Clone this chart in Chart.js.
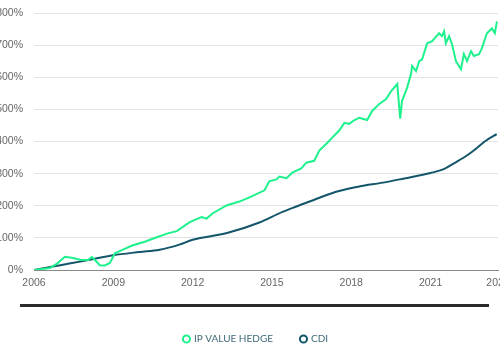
<!DOCTYPE html>
<html>
<head>
<meta charset="utf-8">
<script src="https://cdn.jsdelivr.net/npm/chart.js@4/dist/chart.umd.min.js"></script>
<style>
  html, body { margin: 0; padding: 0; background: #fff; overflow: hidden; }
  #wrap { position: relative; width: 500px; height: 350px; overflow: hidden; }
  #chartBox { position: absolute; left: -20px; top: 0; width: 550px; height: 354px; }
  #rule { position: absolute; left: 20px; top: 304px; width: 469px; height: 3px; background: #2b2b2b; }
</style>
</head>
<body>
<div id="wrap">
  <div id="chartBox"><canvas id="perfChart"></canvas></div>
  <div id="rule"></div>
</div>
<script>
// 累计收益 (%)，横轴为年份（小数）
const hedgeYears = [
  2006.0, 2006.3, 2006.6, 2006.87, 2007.17, 2007.43, 2007.74, 2008.04, 2008.19, 2008.34,
  2008.49, 2008.68, 2008.87, 2009.06, 2009.43, 2009.74, 2010.19, 2010.64, 2011.06, 2011.4,
  2011.89, 2012.34, 2012.53, 2012.75, 2013.28, 2013.77, 2014.15, 2014.72, 2014.9, 2015.17,
  2015.28, 2015.55, 2015.77, 2016.11, 2016.3, 2016.6, 2016.79, 2017.06, 2017.28, 2017.55,
  2017.74, 2017.92, 2018.11, 2018.3, 2018.6, 2018.79, 2019.06, 2019.32, 2019.51, 2019.74,
  2019.85, 2019.92, 2020.11, 2020.26, 2020.3, 2020.45, 2020.57, 2020.68, 2020.87, 2021.06,
  2021.32, 2021.43, 2021.51, 2021.58, 2021.7, 2021.81, 2021.96, 2022.15, 2022.26, 2022.38,
  2022.53, 2022.64, 2022.83, 2022.94, 2023.13, 2023.32, 2023.43, 2023.51
];
const hedgeValues = [
  0, 3, 6, 20, 41, 38, 32, 31, 40, 28,
  15, 14, 22, 52, 66, 77, 88, 102, 114, 121,
  149, 165, 160, 176, 201, 213, 226, 248, 276, 282,
  291, 286, 303, 316, 334, 340, 372, 393, 412, 435,
  458, 455, 466, 474, 467, 495, 517, 532, 557, 579,
  471, 526, 567, 610, 635, 619, 650, 656, 706, 712,
  737, 728, 743, 706, 728, 703, 650, 625, 672, 650,
  681, 666, 672, 690, 737, 752, 737, 774
];

const cdiYears = [
  2006.0, 2007.0, 2008.0, 2009.0, 2010.0, 2010.75, 2011.5, 2012.0, 2013.3, 2014.5,
  2015.4, 2016.0, 2016.8, 2017.5, 2018.3, 2019.2, 2020.0, 2021.0, 2021.5, 2021.9,
  2022.4, 2022.75, 2023.1, 2023.5
];
const cdiValues = [
  0, 15, 30, 46, 56, 63, 79, 94, 115, 147,
  181, 200, 225, 245, 260, 272, 285, 302, 314, 333,
  358, 380, 403, 423
];

// 刻度年份；最后一个标签落在数据末端
const yearTicks = [2006, 2009, 2012, 2015, 2018, 2021];
const lastYearLabel = '2024';
const xEnd = 2023.55;

const toPoints = (xs, ys) => xs.map((x, i) => ({ x, y: ys[i] }));

const tickFont = { family: '"Liberation Sans", Arial, sans-serif', size: 10.5 };

// 图例整体右移一点
const legendShift = {
  id: 'legendShift',
  afterLayout(chart) {
    const lg = chart.legend;
    if (!lg) return;
    lg.left += 8;
    lg.right += 8;
  }
};

new Chart(document.getElementById('perfChart'), {
  type: 'line',
  data: {
    datasets: [{
      label: 'IP VALUE HEDGE',
      data: toPoints(hedgeYears, hedgeValues),
      borderColor: '#1df28c',
      backgroundColor: '#ffffff',
      borderWidth: 2,
      pointRadius: 0,
      tension: 0,
    }, {
      label: 'CDI',
      data: toPoints(cdiYears, cdiValues),
      borderColor: '#13566a',
      backgroundColor: '#ffffff',
      borderWidth: 2,
      pointRadius: 0,
      cubicInterpolationMode: 'monotone',
    }]
  },
  plugins: [legendShift],
  options: {
    responsive: true,
    maintainAspectRatio: false,
    animation: false,
    layout: {
      padding: { top: 0, right: 32, left: 18, bottom: 0 }
    },
    plugins: {
      tooltip: { enabled: false },
      legend: {
        position: 'bottom',
        labels: {
          usePointStyle: true,
          pointStyle: 'circle',
          boxWidth: 5,
          boxHeight: 5,
          padding: 28,
          color: '#3f6a78',
          font: { family: 'Lato, sans-serif', size: 10 }
        }
      }
    },
    scales: {
      x: {
        type: 'linear',
        min: 2006,
        max: xEnd,
        afterBuildTicks: axis => {
          axis.ticks = yearTicks.map(v => ({ value: v })).concat([{ value: xEnd }]);
        },
        afterFit: axis => { axis.height = 36; },
        ticks: {
          color: '#666',
          font: tickFont,
          padding: 7,
          maxRotation: 0,
          autoSkip: false,
          callback: v => (v === xEnd ? lastYearLabel : String(v))
        },
        grid: { display: false, drawTicks: false },
        border: { display: true, color: '#8a8a8a', width: 1 }
      },
      y: {
        min: 0,
        max: 800,
        afterFit: axis => {
          axis.width = 36;
          axis.paddingTop = 13;
        },
        ticks: {
          stepSize: 100,
          color: '#666',
          font: tickFont,
          padding: 11,
          callback: v => v + '%'
        },
        grid: { color: '#e2e2e2', lineWidth: 1, drawTicks: false },
        border: { display: false }
      }
    }
  }
});
</script>
</body>
</html>
